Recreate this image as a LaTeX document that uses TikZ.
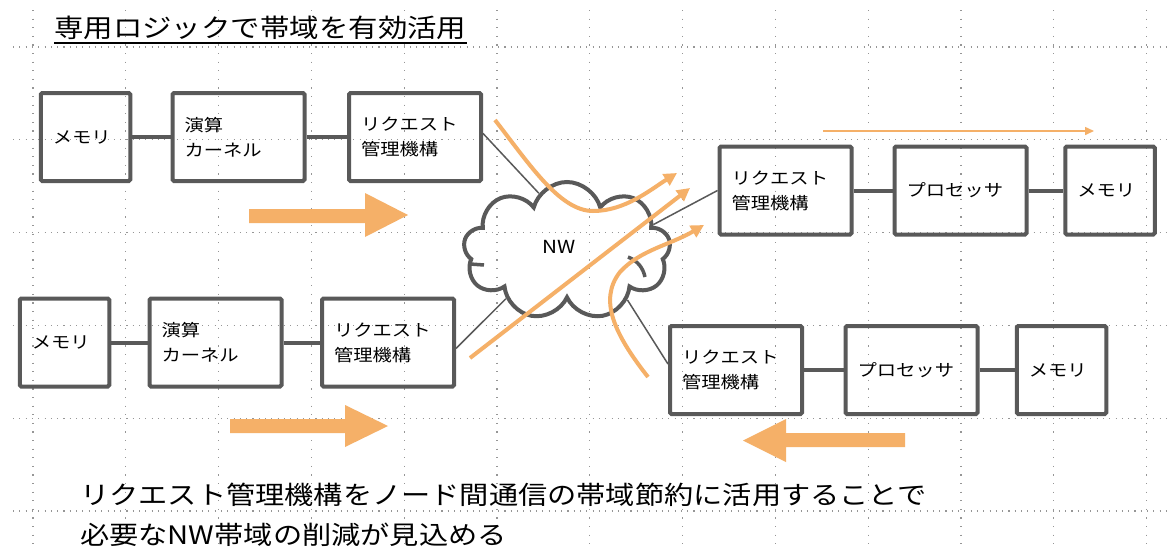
\documentclass[tikz,border=0pt]{standalone}
\usepackage{fontspec}
\setmainfont{Noto Sans CJK JP}[FakeStretch=1.15]
\usetikzlibrary{shapes.symbols,arrows.meta,calc}
\definecolor{boxgray}{RGB}{89,89,89}
\definecolor{arrorange}{RGB}{245,176,104}
\definecolor{gridgray}{RGB}{150,150,150}
\tikzset{
  gridh/.style={gridgray, line width=1.1pt, dash pattern=on 1.1pt off 5.2pt},
  gridv/.style={gridgray, line width=1.1pt, dash pattern=on 1.1pt off 7.5pt},
  blk/.style={draw=boxgray, line width=4pt, rounded corners=1.5pt, inner xsep=12pt, inner ysep=0pt,
    minimum height=88pt, align=left, text=black, font=\fontsize{16.8}{25}\selectfont},
  wblk/.style={blk, text width=108pt},
  nblk/.style={blk, text width=65.5pt},
  link/.style={draw=boxgray, line width=4pt},
  thinlink/.style={draw=boxgray, line width=1.5pt},
  blockarrow/.style={fill=arrorange},
  flow/.style={draw=arrorange, line width=4pt, -{Triangle[length=13pt,width=13pt]}},
  hook/.style={draw=boxgray, line width=3.5pt},
}
\begin{document}
\begin{tikzpicture}[x=1pt,y=-1pt]
\useasboundingbox (0,0) rectangle (1171,549);
\fill[white] (0,0) rectangle (1171,549);
% grid
\foreach \y in {47,139.8,232.6,325.4,418.2,511} \draw[gridh] (13,\y) -- (1171,\y);
\foreach \x in {33,125.8,218.6,311.4,404.2,497,589.8,682.6,775.4,868.2,961,1053.8,1146.6} \draw[gridv] (\x,10) -- (\x,549);

% title
\node[font=\fontsize{25.6}{30}\selectfont, anchor=west, inner sep=0] (title) at (54,28) {専用ロジックで帯域を有効活用};
\draw[line width=2.2pt] ($(title.west)+(0,15)$) -- ($(title.east)+(0,15)$);

% boxes row A
\node[nblk] (A1) at (85.5,137) {メモリ};
\node[wblk] (A2) at (238.5,137) {演算\\カーネル};
\node[wblk] (A3) at (415,137) {リクエスト\\管理機構};
% row B
\node[nblk] (B1) at (64.5,342.5) {メモリ};
\node[wblk] (B2) at (215.5,342.5) {演算\\カーネル};
\node[wblk] (B3) at (388,342.5) {リクエスト\\管理機構};
% row C
\node[wblk] (C1) at (785.5,190.5) {リクエスト\\管理機構};
\node[wblk] (C2) at (960.5,190.5) {プロセッサ};
\node[nblk] (C3) at (1110,190.5) {メモリ};
% row D
\node[wblk] (D1) at (736,370) {リクエスト\\管理機構};
\node[wblk] (D2) at (911.5,370) {プロセッサ};
\node[nblk] (D3) at (1061.5,370) {メモリ};

\draw[link] (A1) -- (A2);
\draw[link] (A2) -- (A3);
\draw[link] (B1) -- (B2);
\draw[link] (B2) -- (B3);
\draw[link] (C1) -- (C2);
\draw[link] (C2) -- (C3);
\draw[link] (D1) -- (D2);
\draw[link] (D2) -- (D3);

% cloud
\node[cloud, draw=boxgray, line width=4pt, cloud puffs=9, cloud puff arc=150, aspect=1.5,
  minimum width=207pt, minimum height=138pt, inner sep=0, shape border rotate=10] (NW) at (567,251) {};
\draw[hook] (628,257) .. controls (638,261) and (643,268) .. (645,277);
\draw[hook] (470,264) -- (484,265);
\node[font=\fontsize{18}{20}\selectfont, inner sep=0] (nwlabel) at (559,247) {NW};

\draw[thinlink] (A3.3) -- (NW.116);
\draw[thinlink] (B3.-5) -- (NW.218);
\draw[thinlink] (NW.17) -- (C1.west);
\draw[thinlink] (NW.321) -- (D1.175);

% block arrows
\fill[blockarrow] (249,209) -- (365,209) -- (365,193) -- (408,215) -- (365,237) -- (365,223) -- (249,223) -- cycle;
\fill[blockarrow] (230,419) -- (345,419) -- (345,405) -- (388,426) -- (345,447) -- (345,433) -- (230,433) -- cycle;
\fill[blockarrow] (905,433) -- (786,433) -- (786,419) -- (743,440.5) -- (786,462) -- (786,447) -- (905,447) -- cycle;

% thin arrow
\coordinate (t1) at (823,131);
\coordinate (t2) at (1094,131);
\draw[arrorange, line width=1.5pt, -{Triangle[length=9pt,width=8pt]}] (t1) -- (t2);

% flow curves
\coordinate (f1s) at (495,120);
\coordinate (f1e) at (677,173);
\draw[flow] (f1s) .. controls (530,165) and (560,211) .. (593,211) .. controls (625,211) and (650,190) .. (f1e);
\coordinate (f2s) at (470,358);
\coordinate (f2e) at (690,188);
\draw[flow] (f2s) -- (f2e);
\coordinate (f3s) at (648,377);
\coordinate (f3e) at (704,225);
\draw[flow] (f3s) .. controls (615,335) and (598,300) .. (620,272) .. controls (640,250) and (670,245) .. (f3e);

% bottom text
\node[font=\fontsize{25.4}{30}\selectfont, anchor=west, inner sep=0] (note1) at (80,495) {リクエスト管理機構をノード間通信の帯域節約に活用することで};
\node[font=\fontsize{25.4}{30}\selectfont, anchor=west, inner sep=0] (note2) at (80,535) {必要なNW帯域の削減が見込める};
\end{tikzpicture}
\end{document}
